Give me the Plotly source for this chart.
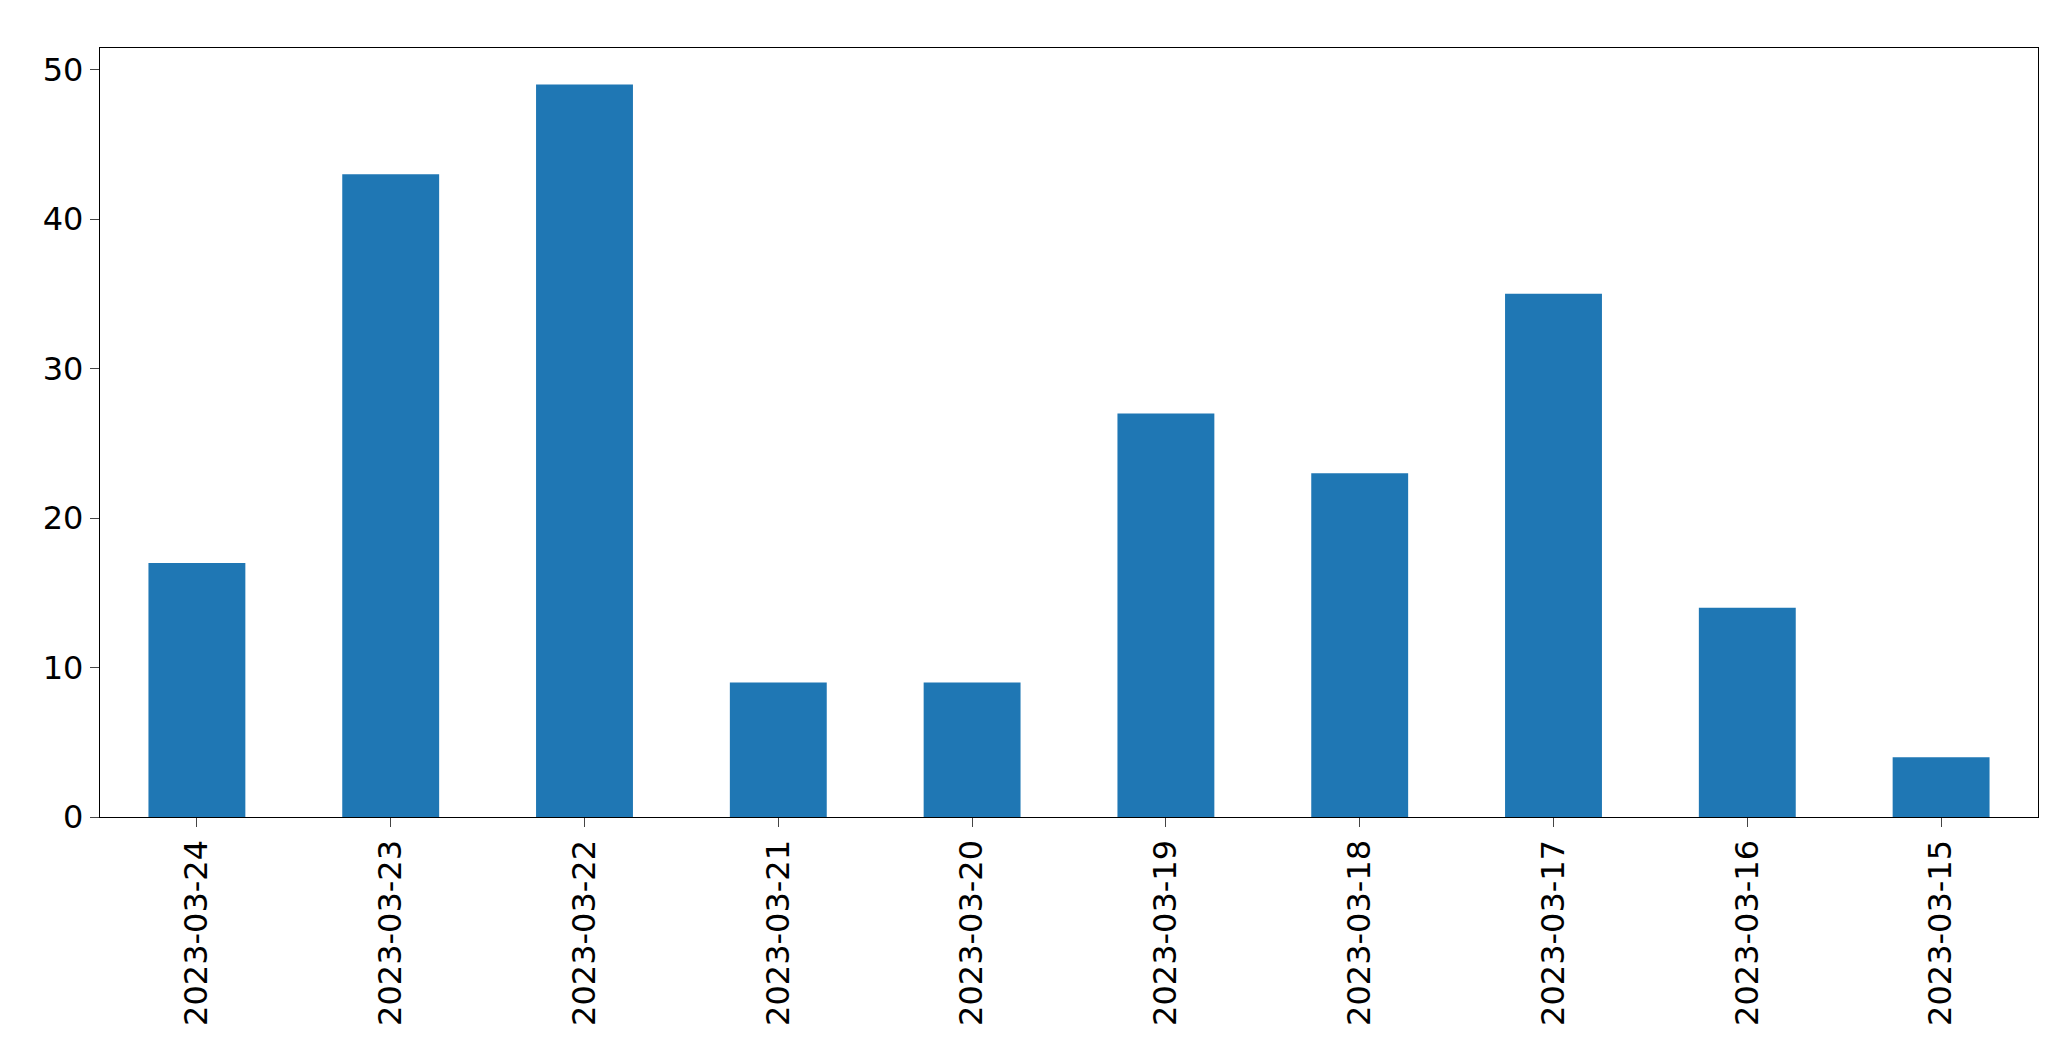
import plotly.graph_objects as go

dates = ["2023-03-24","2023-03-23","2023-03-22","2023-03-21","2023-03-20",
         "2023-03-19","2023-03-18","2023-03-17","2023-03-16","2023-03-15"]
counts = [17, 43, 49, 9, 9, 27, 23, 35, 14, 4]

fig = go.Figure(go.Bar(x=list(range(len(dates))), y=counts, width=0.5,
                       marker=dict(color="#1f77b4", line=dict(width=0))))
fig.update_layout(
    width=2071, height=1061, plot_bgcolor="white", paper_bgcolor="white",
    margin=dict(l=92, r=41, t=40, b=252),
    font=dict(family="DejaVu Sans", size=32, color="black"),
    showlegend=False,
)
fig.update_xaxes(range=[-0.5, 9.5], tickvals=list(range(len(dates))), ticktext=dates,
                 tickangle=-90, showline=True, linecolor="black", linewidth=1.3, mirror=True,
                 ticks="outside", ticklen=9, tickwidth=1.3, showgrid=False)
fig.update_yaxes(range=[0, 51.45], tickvals=[0, 10, 20, 30, 40, 50],
                 showline=True, linecolor="black", linewidth=1.3, mirror=True,
                 ticks="outside", ticklen=9, tickwidth=1.3, showgrid=False, zeroline=False)
fig.write_html("out.html")
